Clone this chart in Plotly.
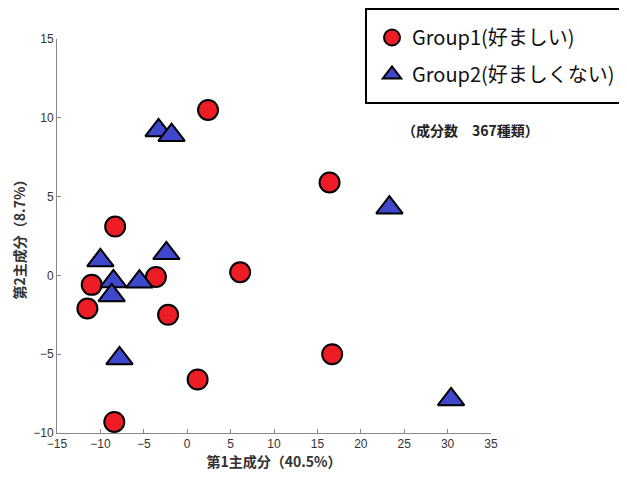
import plotly.graph_objects as go

g1_x = [2.4, 16.4, -8.3, -3.6, 6.1, -11.0, -11.5, -2.2, 16.7, 1.2, -8.4]
g1_y = [10.5, 5.9, 3.1, -0.1, 0.2, -0.6, -2.1, -2.5, -5.0, -6.6, -9.3]
g2_x = [-3.3, -1.8, 23.3, -10.0, -2.4, -8.5, -5.5, -8.7, -7.8, 30.4]
g2_y = [9.2, 8.9, 4.3, 0.95, 1.4, -0.38, -0.4, -1.27, -5.27, -7.87]

x_ticks = [-15, -10, -5, 0, 5, 10, 15, 20, 25, 30, 35]
y_ticks = [-10, -5, 0, 5, 10, 15]

JP = "Noto Sans CJK JP"

# page offset (browser default body margin)
OFF = 8
L, T, PW, PH = 57, 39, 434, 394   # plot area in screenshot pixels


def px(xp):
    return (xp - L) / PW


def py(yp):
    return (T + PH - yp) / PH


fig = go.Figure()
fig.add_trace(go.Scatter(
    x=g1_x, y=g1_y, mode="markers", name="Group1(好ましい)", legendgroup="g1",
    marker=dict(symbol="circle", size=20, color="#EE1C25",
                line=dict(color="black", width=2)),
))
fig.add_trace(go.Scatter(
    x=g2_x, y=g2_y, mode="markers", name="Group2(好ましくない)", legendgroup="g2",
    marker=dict(symbol="triangle-up", size=23, color="#3F48CC",
                line=dict(color="black", width=2)),
))

axis_common = dict(
    showline=True, linecolor="#888888", linewidth=1,
    ticks="inside", ticklen=4, tickcolor="#888888",
    showgrid=False, zeroline=False, automargin=False,
    tickfont=dict(family="Liberation Sans", size=12, color="#333333"),
)

fig.update_xaxes(range=[-15, 35], tickvals=x_ticks, **axis_common,
                 title=dict(text="<b>第1主成分（40.5%）</b>",
                            font=dict(family=JP, size=14, color="#333333"),
                            standoff=6))
fig.update_yaxes(range=[-10, 15], tickvals=y_ticks, **axis_common,
                 title=dict(text="<b>第2主成分（8.7%）</b>",
                            font=dict(family=JP, size=14, color="#333333"),
                            standoff=4))

fig.add_annotation(
    text="<b>（成分数　367種類）</b>", xref="paper", yref="paper",
    x=px(470), y=py(130), xanchor="center", yanchor="middle", showarrow=False,
    font=dict(family=JP, size=14, color="#222222"),
)

# legend frame
fig.add_shape(type="rect", xref="paper", yref="paper",
              x0=px(366), x1=px(640),
              y0=py(103), y1=py(9),
              line=dict(color="black", width=2), fillcolor="rgba(0,0,0,0)")

fig.update_layout(
    width=627 - OFF, height=480 - OFF,
    margin=dict(l=L - OFF, r=627 - L - PW, t=T - OFF, b=480 - T - PH,
                autoexpand=False),
    plot_bgcolor="white", paper_bgcolor="white",
    legend=dict(
        x=px(372), y=py(18), xanchor="left", yanchor="top",
        borderwidth=0, bgcolor="rgba(0,0,0,0)",
        font=dict(family=JP, size=20, color="#111111"),
        itemsizing="trace", tracegroupgap=8,
    ),
)

fig.write_html("out.html")
